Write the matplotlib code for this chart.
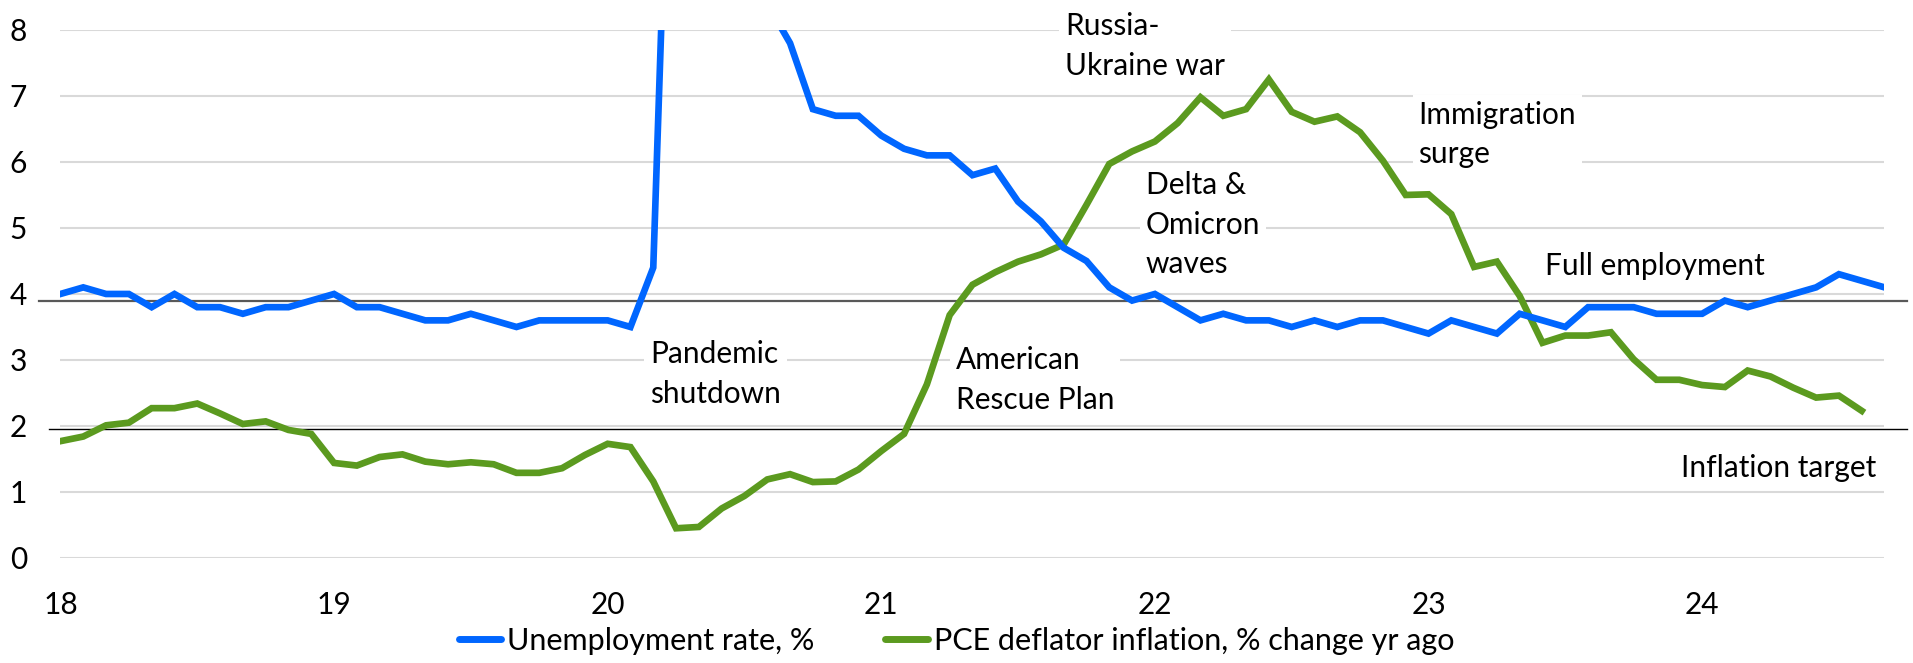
import numpy as np
import matplotlib
matplotlib.use("Agg")
import matplotlib.pyplot as plt

plt.rcParams['font.family'] = ['Lato', 'DejaVu Sans']

# 월별 데이터 (2018년 1월 ~ 2024년 9월)
unemployment = [4.0, 4.1, 4.0, 4.0, 3.8, 4.0, 3.8, 3.8, 3.7, 3.8, 3.8, 3.9,
                4.0, 3.8, 3.8, 3.7, 3.6, 3.6, 3.7, 3.6, 3.5, 3.6, 3.6, 3.6,
                3.6, 3.5, 4.4, 14.8, 13.2, 11.0, 10.2, 8.4, 7.8, 6.8, 6.7, 6.7,
                6.4, 6.2, 6.1, 6.1, 5.8, 5.9, 5.4, 5.1, 4.7, 4.5, 4.1, 3.9,
                4.0, 3.8, 3.6, 3.7, 3.6, 3.6, 3.5, 3.6, 3.5, 3.6, 3.6, 3.5,
                3.4, 3.6, 3.5, 3.4, 3.7, 3.6, 3.5, 3.8, 3.8, 3.8, 3.7, 3.7,
                3.7, 3.9, 3.8, 3.9, 4.0, 4.1, 4.3, 4.2, 4.1]

pce_inflation = [1.77, 1.84, 2.01, 2.05, 2.27, 2.27, 2.34, 2.19, 2.03, 2.07, 1.94, 1.88,
                 1.44, 1.40, 1.53, 1.57, 1.46, 1.42, 1.45, 1.42, 1.29, 1.29, 1.36, 1.56,
                 1.73, 1.68, 1.16, 0.45, 0.47, 0.75, 0.94, 1.19, 1.27, 1.15, 1.16, 1.34,
                 1.62, 1.88, 2.63, 3.68, 4.14, 4.33, 4.49, 4.60, 4.75, 5.35, 5.97, 6.16,
                 6.31, 6.59, 6.98, 6.70, 6.80, 7.25, 6.76, 6.61, 6.69, 6.45, 6.02, 5.50,
                 5.51, 5.21, 4.41, 4.49, 3.97, 3.26, 3.37, 3.37, 3.42, 3.01, 2.70, 2.70,
                 2.62, 2.59, 2.84, 2.75, 2.58, 2.43, 2.46, 2.23]

year_labels = ['18', '19', '20', '21', '22', '23', '24']
full_employment = 3.9
inflation_target = 1.95

# 주석 (텍스트, 월 위치, 값 위치)
notes = [
    ("Pandemic\nshutdown", 25.86, 3.30),
    ("American\nRescue Plan", 39.28, 3.21),
    ("Delta &\nOmicron\nwaves", 47.6, 5.86),
    ("Russia-\nUkraine war", 44.06, 8.27),
    ("Immigration\nsurge", 59.56, 6.93),
    ("Full employment", 65.1, 4.63),
    ("Inflation target", 71.07, 1.58),
]

blue = '#0066ff'
green = '#5b9a1f'

fig = plt.figure(figsize=(19.13, 6.63), dpi=100)
ax = fig.add_axes([0.0316, 0.1584, 0.9535, 0.7964])

x_u = np.arange(len(unemployment))
x_p = np.arange(len(pce_inflation))

ax.plot(x_u, unemployment, color=blue, lw=4.8, zorder=4,
        solid_joinstyle='miter', label='Unemployment rate, %')
ax.plot(x_p, pce_inflation, color=green, lw=4.8, zorder=3,
        solid_joinstyle='miter', label='PCE deflator inflation, % change yr ago')

# 기준선 (축 밖으로 조금 나감)
ax.plot([-0.95, 81.0], [full_employment, full_employment], color='#595959',
        lw=1.6, zorder=2, clip_on=False)
ax.plot([-0.5, 81.0], [inflation_target, inflation_target], color='black',
        lw=1.0, zorder=2, clip_on=False)

for text, xm, yv in notes:
    ax.text(xm, yv, text, fontsize=21.5, ha='left', va='top', linespacing=1.5,
            zorder=2.5, clip_on=False,
            bbox=dict(facecolor='white', edgecolor='none', pad=4))

ax.set_xlim(0, 80)
ax.set_ylim(0, 8)
ax.set_yticks(range(0, 9))
ax.set_xticks(np.arange(0, 73, 12))
ax.set_xticklabels(year_labels)
ax.grid(axis='y', color='#d9d9d9', lw=1.5, zorder=0)
ax.set_axisbelow(True)
ax.tick_params(axis='both', length=0, labelsize=21.5)
ax.tick_params(axis='y', pad=24)
ax.tick_params(axis='x', pad=24)
for s in ax.spines.values():
    s.set_visible(False)

leg = fig.legend(loc='center', bbox_to_anchor=(0.5, 0.033), ncol=2, frameon=False,
                 fontsize=22, handlelength=1.4, handletextpad=0.2, columnspacing=2.3)
for line in leg.get_lines():
    line.set_linewidth(5)
    line.set_solid_capstyle('round')

fig.savefig('out.png', dpi=100)
